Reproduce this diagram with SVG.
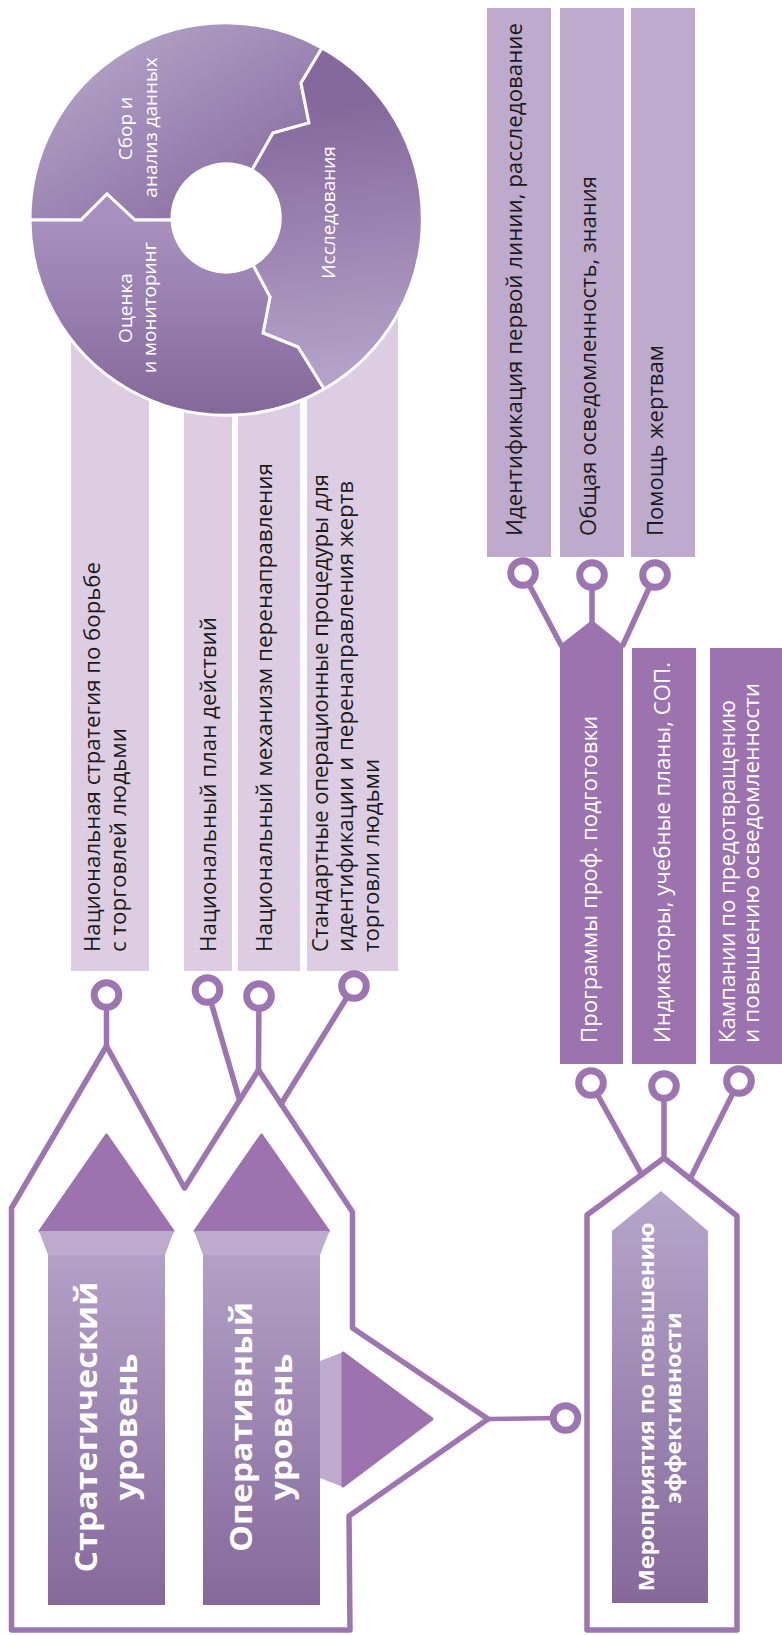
<svg xmlns="http://www.w3.org/2000/svg" width="782" height="1635" viewBox="0 0 782 1635">
<defs>
<linearGradient id="gA" gradientUnits="userSpaceOnUse" x1="90" y1="40" x2="210" y2="230"><stop offset="0" stop-color="#b3a3c8"/><stop offset="1" stop-color="#8a6fa2"/></linearGradient>
<linearGradient id="gB" gradientUnits="userSpaceOnUse" x1="300" y1="110" x2="330" y2="370"><stop offset="0" stop-color="#85699c"/><stop offset="1" stop-color="#b3a1c8"/></linearGradient>
<linearGradient id="gC" gradientUnits="userSpaceOnUse" x1="0" y1="225" x2="0" y2="410"><stop offset="0" stop-color="#a790bd"/><stop offset="1" stop-color="#85699b"/></linearGradient>
<linearGradient id="gL" x1="0" y1="0" x2="0" y2="1"><stop offset="0" stop-color="#b2a0c7"/><stop offset="1" stop-color="#85699b"/></linearGradient>
<linearGradient id="gM" x1="0" y1="0" x2="0" y2="1"><stop offset="0" stop-color="#b6a6cb"/><stop offset="1" stop-color="#85699b"/></linearGradient>
<style>
.t{font-family:"Open Sans","Noto Sans","DejaVu Sans",sans-serif}
.bt{font-size:21px;fill:#1a1a1a}
.wt{font-size:21px;fill:#fff}
.ct{font-size:19px;fill:#fff;text-anchor:middle}
.bd{font-weight:700;fill:#fff;text-anchor:middle}
.pale{fill:#dccde3}
.mid{fill:#bdaacd}
.dark{fill:#9c73ae}
.ln{fill:none;stroke:#9d75b0;stroke-width:5.5;stroke-linejoin:round;stroke-linecap:round}
.ring{fill:#fff;stroke:#9d75b0;stroke-width:7}
.seg{stroke:#fff;stroke-width:3;stroke-linejoin:miter}
</style>
</defs>

<!-- top-left bars -->
<g id="bar-strategy">
<rect class="pale" x="71" y="330" width="78" height="641"/>
<text class="t bt" transform="translate(100,952) rotate(-90)" textLength="390" lengthAdjust="spacingAndGlyphs">Национальная стратегия по борьбе</text>
<text class="t bt" transform="translate(126,952) rotate(-90)" textLength="224" lengthAdjust="spacingAndGlyphs">с торговлей людьми</text>
</g>
<g id="bar-plan">
<rect class="pale" x="184" y="400" width="48" height="571"/>
<text class="t bt" transform="translate(216,952) rotate(-90)" textLength="335" lengthAdjust="spacingAndGlyphs">Национальный план действий</text>
</g>
<g id="bar-nrm">
<rect class="pale" x="238" y="400" width="62" height="571"/>
<text class="t bt" transform="translate(272,952) rotate(-90)" textLength="489" lengthAdjust="spacingAndGlyphs">Национальный механизм перенаправления</text>
</g>
<g id="bar-sop">
<rect class="pale" x="307" y="300" width="91" height="671"/>
<text class="t bt" transform="translate(327.5,952) rotate(-90)" textLength="478" lengthAdjust="spacingAndGlyphs">Стандартные операционные процедуры для</text>
<text class="t bt" transform="translate(353,952) rotate(-90)" textLength="471" lengthAdjust="spacingAndGlyphs">идентификации и перенаправления жертв</text>
<text class="t bt" transform="translate(378.5,952) rotate(-90)" textLength="193" lengthAdjust="spacingAndGlyphs">торговли людьми</text>
</g>

<!-- cycle -->
<g id="cycle">
<path class="seg" fill="url(#gA)" d="M30,220 A196,196 0 0 1 322,48 L301,83 L309,123 L273,133 L252,170 A54.5,54.5 0 0 0 172,220 L135,220 L107,194 L81,220 Z"/>
<path class="seg" fill="url(#gB)" d="M322,48 A196,196 0 0 1 324,389 L298,347 L263,333 L270,297 L253,265 A54.5,54.5 0 0 0 252,170 L273,133 L309,123 L301,83 Z"/>
<path class="seg" fill="url(#gC)" d="M324,389 A196,196 0 0 1 30,220 L81,220 L107,194 L135,220 L172,220 A54.5,54.5 0 0 0 253,265 L270,297 L263,333 L298,347 Z"/>
<circle cx="226" cy="219" r="54.5" fill="#fff"/>
<text class="t ct" transform="translate(132,128.5) rotate(-90)">Сбор и</text>
<text class="t ct" transform="translate(157,127.5) rotate(-90)">анализ данных</text>
<text class="t ct" transform="translate(335,212.5) rotate(-90)">Исследования</text>
<text class="t ct" transform="translate(132,308) rotate(-90)">Оценка</text>
<text class="t ct" transform="translate(156,307.5) rotate(-90)">и мониторинг</text>
</g>

<!-- top-right bars -->
<g id="bar-ident">
<rect class="mid" x="487" y="8" width="64" height="549"/>
<text class="t bt" transform="translate(522,536) rotate(-90)" textLength="513" lengthAdjust="spacingAndGlyphs">Идентификация первой линии, расследование</text>
</g>
<g id="bar-aware">
<rect class="mid" x="560" y="8" width="64" height="549"/>
<text class="t bt" transform="translate(596,536) rotate(-90)" textLength="360" lengthAdjust="spacingAndGlyphs">Общая осведомленность, знания</text>
</g>
<g id="bar-help">
<rect class="mid" x="631" y="8" width="64" height="549"/>
<text class="t bt" transform="translate(663,536) rotate(-90)" textLength="191" lengthAdjust="spacingAndGlyphs">Помощь жертвам</text>
</g>

<!-- right column bars -->
<g id="bar-training">
<path class="dark" d="M560,645 L592,620 L623,645 L623,1064 L560,1064 Z"/>
<text class="t wt" transform="translate(597,1043) rotate(-90)" textLength="327" lengthAdjust="spacingAndGlyphs">Программы проф. подготовки</text>
</g>
<g id="bar-indicators">
<rect class="dark" x="632" y="648" width="64" height="416"/>
<text class="t wt" transform="translate(670,1043) rotate(-90)" textLength="381" lengthAdjust="spacingAndGlyphs">Индикаторы, учебные планы, СОП.</text>
</g>
<g id="bar-campaigns">
<rect class="dark" x="710" y="648" width="72" height="416"/>
<text class="t wt" transform="translate(735,1043) rotate(-90)" textLength="343" lengthAdjust="spacingAndGlyphs">Кампании по предотвращению</text>
<text class="t wt" transform="translate(759,1043) rotate(-90)" textLength="360" lengthAdjust="spacingAndGlyphs">и повышению осведомленности</text>
</g>

<!-- levels -->
<g id="levels">
<path class="ln" d="M11.5,1630 L11.5,1208 L106.5,1046 L184.5,1188 L258.5,1070 L352.5,1212 L352.5,1328 L488,1419 L349,1516 L350,1630 Z"/>
<g id="level-strategic">
<polygon fill="#9c73ae" stroke="#9c73ae" stroke-width="3" stroke-linejoin="round" points="40,1231 106.5,1135 173,1231"/>
<polygon fill="#bdaacd" points="39,1231 174,1231 165,1255 48,1255"/>
<rect x="48" y="1255" width="117" height="350" fill="url(#gL)"/>
<text class="t bd" font-size="30" transform="translate(97,1427) rotate(-90)" textLength="291" lengthAdjust="spacingAndGlyphs">Стратегический</text>
<text class="t bd" font-size="30" transform="translate(137,1427) rotate(-90)" textLength="147" lengthAdjust="spacingAndGlyphs">уровень</text>
</g>
<g id="level-operational">
<polygon fill="#9c73ae" stroke="#9c73ae" stroke-width="3" stroke-linejoin="round" points="195,1231 261.5,1135 328.5,1231"/>
<polygon fill="#bdaacd" points="194,1231 329.5,1231 320,1255 203,1255"/>
<rect x="203" y="1255" width="117" height="350" fill="url(#gL)"/>
<polygon fill="#bdaacd" points="320,1361 343,1352 343,1487 320,1478"/>
<polygon fill="#9c73ae" stroke="#9c73ae" stroke-width="3" stroke-linejoin="round" points="343,1353 432,1419 343,1486"/>
<text class="t bd" font-size="30" transform="translate(252,1427) rotate(-90)" textLength="250" lengthAdjust="spacingAndGlyphs">Оперативный</text>
<text class="t bd" font-size="30" transform="translate(292,1427) rotate(-90)" textLength="147" lengthAdjust="spacingAndGlyphs">уровень</text>
</g>
</g>

<g id="capacity">
<path class="ln" d="M587,1630 L587,1215 L664,1158 L737,1216 L737,1630 Z"/>
<polygon fill="url(#gM)" points="612,1231 661,1191 708,1231 708,1603 612,1603"/>
<text class="t bd" font-size="22" transform="translate(654,1407) rotate(-90)" textLength="369" lengthAdjust="spacingAndGlyphs">Мероприятия по повышению</text>
<text class="t bd" font-size="22" transform="translate(681,1408) rotate(-90)" textLength="191" lengthAdjust="spacingAndGlyphs">эффективности</text>
</g>

<!-- connectors -->
<g id="connectors">
<line class="ln" x1="106.5" y1="995" x2="106.5" y2="1046"/>
<line class="ln" x1="207.5" y1="990" x2="239.5" y2="1100"/>
<line class="ln" x1="259" y1="996" x2="258.5" y2="1070"/>
<line class="ln" x1="354" y1="986" x2="281" y2="1104"/>
<line class="ln" x1="488" y1="1419" x2="565" y2="1418" style="stroke-width:4.5"/>
<line class="ln" x1="523" y1="573" x2="561" y2="645"/>
<line class="ln" x1="592" y1="575" x2="592" y2="621"/>
<line class="ln" x1="655" y1="575" x2="623" y2="645"/>
<line class="ln" x1="591" y1="1083" x2="641.7" y2="1174.5"/>
<line class="ln" x1="664" y1="1086" x2="664" y2="1158"/>
<line class="ln" x1="739" y1="1081" x2="690" y2="1179"/>
<circle class="ring" cx="106.5" cy="995" r="12.3"/>
<circle class="ring" cx="207.5" cy="990" r="12.3"/>
<circle class="ring" cx="259" cy="996" r="12.3"/>
<circle class="ring" cx="354" cy="986" r="12.3"/>
<circle class="ring" cx="565.5" cy="1418" r="12.3"/>
<circle class="ring" cx="523" cy="573" r="12.3"/>
<circle class="ring" cx="592" cy="575" r="12.3"/>
<circle class="ring" cx="655" cy="575" r="12.3"/>
<circle class="ring" cx="591" cy="1083" r="12.3"/>
<circle class="ring" cx="664" cy="1086" r="12.3"/>
<circle class="ring" cx="739" cy="1081" r="12.3"/>
</g>
</svg>
